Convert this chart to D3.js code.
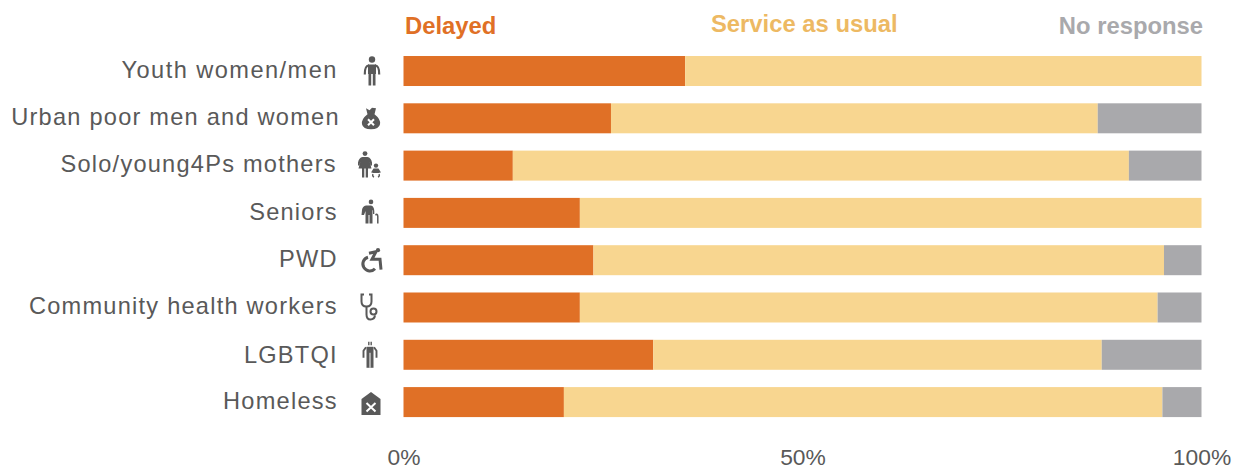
<!DOCTYPE html>
<html><head><meta charset="utf-8">
<script src="https://cdn.jsdelivr.net/npm/d3@7/dist/d3.min.js"></script>
<style>html,body{margin:0;padding:0;background:#fff}svg{display:block}text{font-family:"Liberation Sans",Arial,sans-serif}</style>
</head><body><svg id="c" width="1233" height="466"></svg>
<script>
const categories=["Youth women/men","Urban poor men and women","Solo/young4Ps mothers","Seniors","PWD","Community health workers","LGBTQI","Homeless"];
const delayed=[35.3,26.0,13.7,22.1,23.8,22.1,31.3,20.1];
const asUsual=[64.7,61.0,77.2,77.9,71.5,72.4,56.2,75.0];
const noResponse=[0,13.0,9.1,0,4.7,5.5,12.5,4.9];
const seriesNames=["Delayed","Service as usual","No response"];
const seriesColors=["#E07026","#F8D690","#A9A9AC"];
const legendColors=["#E07026","#EDB963","#A9A9AC"];
const tickValues=[0,50,100];
const iconKinds=["person","bag","family","senior","wheel","scope","lgbt","house"];

const svg=d3.select("#c");
const x=d3.scaleLinear().domain([0,100]).range([403.5,1201.5]);
const y=d3.scaleBand().domain(categories).range([47.5,425.6]).paddingInner(0.3658).paddingOuter(0.18);
const rows=categories.map((c,i)=>({c,vals:[delayed[i],asUsual[i],noResponse[i]]}));
const g=svg.selectAll("g.row").data(rows).join("g").attr("class","row");
g.each(function(d){
  let s=0;
  d3.select(this).selectAll("rect").data(d.vals.map((v,i)=>{const o={v,i,s};s+=v;return o;})).join("rect")
   .attr("x",e=>x(e.s)).attr("width",e=>x(e.s+e.v)-x(e.s))
   .attr("y",y(d.c)).attr("height",y.bandwidth()).attr("fill",e=>seriesColors[e.i]);
});
const labelDx=[0,2,-1,0,0,0,0,0],labelDy=[-0.2,-0.5,-1,0,-0.6,-0.5,0.8,-0.9],labelSp=[1.45,1.23,1.23,1.23,1.23,1.23,1.23,1.23];
svg.selectAll("text.cat").data(categories).join("text").attr("class","cat")
  .attr("x",(c,i)=>337.8+labelDx[i]).attr("y",(c,i)=>y(c)+y.bandwidth()/2+7.5+labelDy[i]).attr("text-anchor","end")
  .attr("font-size",23.6).attr("letter-spacing",(c,i)=>labelSp[i]).attr("fill","#595959").text(c=>c);
const axis=d3.axisBottom(x).tickValues(tickValues).tickFormat(v=>v+"%").tickSize(0).tickPadding(0);
const ax=svg.append("g").attr("transform","translate(0,448.5)").call(axis);
ax.select(".domain").remove();
ax.selectAll("text").attr("font-size",22.8).attr("fill","#595959").attr("font-family","Liberation Sans");
const legendX=[405,711,1203],anchor=["start","start","end"],legendBase=[34,32,34];
svg.selectAll("text.leg").data(seriesNames).join("text").attr("class","leg")
  .attr("x",(d,i)=>legendX[i]).attr("y",(d,i)=>legendBase[i]).attr("text-anchor",(d,i)=>anchor[i])
  .attr("font-size",23.8).attr("font-weight","bold").attr("fill",(d,i)=>legendColors[i]).text(d=>d);

const ic="#595959";
const line=(n,d,w,col)=>n.append("path").attr("d",d).attr("stroke",col||ic).attr("stroke-width",w).attr("fill","none");
const draw={
 person(n){n.append("circle").attr("cx",0).attr("cy",-11.5).attr("r",3.2);
  n.append("path").attr("d","M-4,-6.5H4V3H3.5V14.5H0.8V3H-0.8V14.5H-3.5V3H-4Z");
  line(n,"M-7.2,3.5Q-7.6,-5-3,-5.8M7.2,3.5Q7.6,-5 3,-5.8",2.2);},
 bag(n){n.append("path").attr("d","M-5,-11L-1.5,-9 1,-11.5 5,-11 3.5,-5Q10,0 9,5Q8,10 0,10Q-8,10-9,5Q-10,0-3.5,-5Z");
  line(n,"M-3,0L3,6M3,0L-3,6",2,"#fff");},
 family(n){n.append("circle").attr("cx",-4).attr("cy",-12).attr("r",2.4);
  n.append("path").attr("d","M-6.5,-8.5H-1.5Q2,-8 3,-3L3,0H1.8L0.5,-4 2.5,3H-1V12H-3.3V3H-4.7V12H-7V3H-10.5L-8.5,-4-9.8,0H-11V-3Q-10,-8-6.5,-8.5Z");
  n.append("circle").attr("cx",7).attr("cy",0).attr("r",2.2);
  n.append("path").attr("d","M4.5,3H9.5L12,7H10.5V7.5H3.5V7H2Z");
  line(n,"M4,8.5Q3,10.5 5,11.5M10,8.5Q11,10.5 9,11.5",1.4);},
 senior(n){n.append("circle").attr("cx",0).attr("cy",-11).attr("r",2.3);
  n.append("path").attr("d","M-5,-7.5H0Q3,-7 3.3,-2V1H2V-3L1.5,-2.5V10.5H-1.5V2H-2.5V10.5H-5.5V-2L-7,2H-9.5L-9,-3Q-8.5,-7-5,-7.5Z");
  line(n,"M4.8,2.5Q5,1 6,1.5Q6.8,2 6.8,3.5V10.5",1.5);},
 wheel(n){line(n,"M-2,-3A7,7 0 1 0 5,8.5",3);
  n.append("circle").attr("cx",8).attr("cy",-10).attr("r",2.1);
  line(n,"M-1,-7L6,-8.5 2,-1H10L11,9.5",3);},
 scope(n){line(n,"M-5,-13H-7.5V-6Q-7.5,-1-2.5,-1Q2.5,-1 2.5,-6V-13H0",2);
  line(n,"M-2.5,-1V7Q-2.5,12 1.5,12Q5.5,12 6,8",2);
  n.append("circle").attr("cx",4.5).attr("cy",4).attr("r",3).attr("stroke",ic).attr("stroke-width",2).attr("fill","none");},
 lgbt(n){line(n,"M-1.2,-13V-9.5M1.2,-13V-9.5",1.4);
  n.append("path").attr("d","M-3.5,-8H3.5V13H-3.5Z");
  line(n,"M0,-2V13",1,"#fff");
  line(n,"M-4,-7.5L-6.5,-4-6.5,3M4,-7.5L6.5,-4 6.5,3",1.9);},
 house(n){n.append("path").attr("d","M0,-10L9.5,-3V13H-9.5V-3Z");
  line(n,"M-4.5,1L4.5,9.5M4.5,1L-4.5,9.5",2,"#fff");}
};
const iconDx=[372,371,369,371,370,369,370,371],iconDy=[0,1,0,0,0,0,0,0];
categories.forEach((c,i)=>{
  const n=svg.append("g").attr("fill",ic).attr("transform",`translate(${iconDx[i]},${y(c)+y.bandwidth()/2+iconDy[i]})`);
  draw[iconKinds[i]](n);
});
</script></body></html>
